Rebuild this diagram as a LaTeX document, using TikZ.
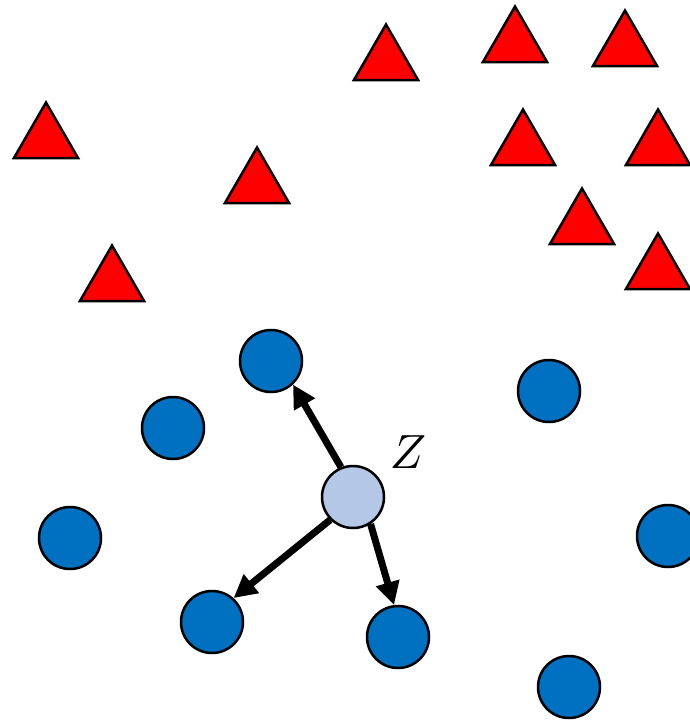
\documentclass[tikz,border=0pt]{standalone}
\usepackage{graphicx}
\usetikzlibrary{shapes.geometric,arrows.meta}
\definecolor{tred}{HTML}{FF0000}
\definecolor{cblue}{HTML}{0070C0}
\definecolor{zblue}{HTML}{B4C7E7}
\begin{document}
\begin{tikzpicture}[x=1pt,y=-1pt,
  tri/.style={regular polygon, regular polygon sides=3, minimum size=74pt, inner sep=0pt,
    draw=black, line width=2.5pt, fill=tred},
  dot/.style={circle, minimum size=62pt, inner sep=0pt, draw=black, line width=2.5pt, fill=cblue},
  zdot/.style={dot, fill=zblue},
  arr/.style={line width=7pt, -{Triangle[length=23pt,width=23pt]}}]
\useasboundingbox (0,0) rectangle (690,721);
% triangles
\node[tri] (t1) at (386,61.5) {};
\node[tri] (t2) at (515,43.5) {};
\node[tri] (t3) at (625,47.5) {};
\node[tri] (t4) at (46,139.5) {};
\node[tri] (t5) at (257,184.5) {};
\node[tri] (t6) at (523,146.5) {};
\node[tri] (t7) at (658,146.5) {};
\node[tri] (t8) at (582,225.5) {};
\node[tri] (t9) at (658,270.5) {};
\node[tri] (t10) at (112,282.5) {};
% circles
\node[dot] (c1) at (271,361) {};
\node[dot] (c2) at (173,428) {};
\node[dot] (c3) at (549,391) {};
\node[dot] (c4) at (70,538) {};
\node[dot] (c5) at (668,536) {};
\node[dot] (c6) at (212,622) {};
\node[dot] (c7) at (398,637) {};
\node[dot] (c8) at (569,687) {};
\node[zdot] (z) at (353,497) {};
\node[inner sep=0pt] (zl) at (408,452) {\scalebox{4.8}{$Z$}};
% arrows
\draw[arr] (z.112) -- (c1.-47);
\draw[arr] (z.-135) -- (c6.48);
\draw[arr] (z.-57) -- (c7.97);
\end{tikzpicture}
\end{document}
